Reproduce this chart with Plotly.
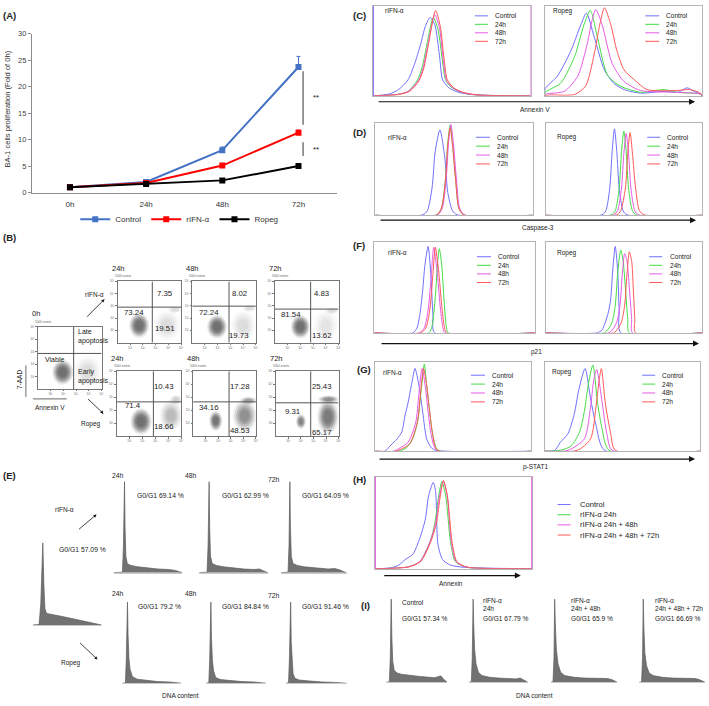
import plotly.graph_objects as go

W, H = 709, 706
FONT = "Arial, Liberation Sans, sans-serif"

# ---------------- data ----------------
# (A) proliferation, fold of 0h
a_times = ["0h", "24h", "48h", "72h"]
a_control = [1.0, 2.0, 8.0, 23.7]
a_control_err = [0.1, 0.2, 0.6, 2.0]
a_rifn = [1.0, 1.8, 5.1, 11.3]
a_rifn_err = [0.1, 0.1, 0.3, 0.5]
a_ropeg = [1.0, 1.6, 2.3, 5.0]
a_ropeg_err = [0.1, 0.1, 0.2, 0.3]

# (B) annexin V / 7-AAD quadrants: upper right, lower left, lower right
b_titles = ["0h", "24h", "48h", "72h", "24h", "48h", "72h"]
b_ur = [None, 7.35, 8.02, 4.83, 10.43, 17.28, 25.43]
b_ll = [None, 73.24, 72.24, 81.54, 71.4, 34.16, 9.31]
b_lr = [None, 19.51, 19.73, 13.62, 18.66, 48.53, 65.17]
b_gate_x = [2.81, 2.73, 2.89, 2.81, 2.85, 2.86, 2.78]
b_gate_y = [2.86, 2.90, 2.98, 2.74, 2.65, 2.65, 2.58]
# event clouds (centre x, centre y, radius x, radius y, density), log decades
b_clouds = [
    [(3.9, 1.4, 1.1, 1.3, 0.12), (1.95, 1.35, 0.82, 1.0, 1.0)],
    [(3.9, 1.4, 1.1, 1.3, 0.12), (4.5, 2.7, 0.6, 0.3, 0.12), (1.7, 1.4, 0.78, 1.0, 1.0)],
    [(4.0, 1.4, 1.0, 1.3, 0.12), (4.5, 2.8, 0.6, 0.3, 0.12), (1.95, 1.3, 0.78, 0.95, 1.0)],
    [(4.0, 1.4, 1.0, 1.3, 0.1), (4.5, 2.6, 0.6, 0.3, 0.12), (2.0, 1.3, 0.75, 0.95, 1.0)],
    [(4.2, 1.6, 0.9, 1.2, 0.3), (4.6, 2.8, 0.5, 0.4, 0.2), (1.9, 1.15, 0.82, 1.0, 1.0)],
    [(4.1, 1.6, 0.95, 1.2, 0.6), (4.4, 2.75, 0.7, 0.3, 0.45), (1.8, 1.2, 0.52, 0.78, 0.9)],
    [(4.15, 1.5, 0.85, 1.3, 0.8), (4.2, 2.85, 0.85, 0.3, 0.6), (2.0, 1.15, 0.4, 0.58, 0.7)],
]

# flow histograms, x and y in % of each box
series = ["Control", "24h", "48h", "72h"]
c_rifn = {
    "Control": ([0, 10, 16, 22, 26, 30, 33, 36, 39, 42, 44, 48, 54, 62, 75, 100],
                [0, 2, 7, 18, 35, 58, 78, 88, 80, 45, 18, 9, 4, 1.5, 0.5, 0]),
    "24h": ([0, 15, 22, 28, 31, 34, 38, 41, 44, 46, 50, 56, 65, 100],
            [0, 1.5, 5, 18, 32, 58, 88, 75, 38, 17, 9, 4, 1, 0]),
    "48h": ([0, 15, 22, 28.5, 31.5, 34.5, 39, 42, 44.5, 46.5, 50.5, 56, 65, 100],
            [0, 1.5, 5, 17, 31, 57, 91, 76, 38, 17, 9, 4, 1, 0]),
    "72h": ([0, 16, 23, 29, 32, 35, 39.5, 42.5, 45, 47, 51, 57, 66, 100],
            [0, 1.5, 5, 17, 31, 58, 96, 78, 40, 18, 9, 4, 1, 0]),
}
c_ropeg = {
    "Control": ([0, 0.3, 8, 16.5, 23, 26.5, 31.5, 38, 44, 50.5, 61, 76, 85, 90.5, 95, 99, 100],
                [0, 8, 22, 50, 80, 93, 66, 29, 14, 7, 3, 5, 4, 9, 5, 2, 0]),
    "24h": ([0, 0.3, 10, 19, 25, 29, 33.5, 40, 48, 61, 76, 84, 99, 100],
            [0, 4, 14, 44, 80, 96, 66, 23, 11, 4, 7, 4, 2, 0]),
    "48h": ([0, 1, 12.5, 21, 27, 30, 32.5, 36.5, 43, 50.5, 61, 82, 99, 100],
            [0, 2, 5, 22, 58, 84, 97, 80, 36, 16, 6, 4, 2, 0]),
    "72h": ([0, 3, 19, 26, 31.5, 35, 38, 42, 46, 50.5, 57, 65, 84, 92, 99, 100],
            [0, 1, 1.5, 11, 47, 80, 99, 80, 50, 29, 18, 7, 6, 7, 3, 0]),
}
d_rifn = {
    "Control": ([0, 30, 33, 36, 38, 41, 44, 46, 49, 52, 100], [0, 0.5, 5, 30, 70, 94, 65, 25, 5, 0.5, 0]),
    "24h": ([0, 39, 42, 44.5, 46, 47.5, 49, 51, 53, 56, 100], [0, 0.5, 8, 40, 80, 99, 80, 40, 8, 0.5, 0]),
    "48h": ([0, 39.5, 42.5, 45, 46.5, 48, 49.5, 51.5, 53.5, 56.5, 100], [0, 0.5, 8, 40, 80, 100, 80, 40, 8, 0.5, 0]),
    "72h": ([0, 39, 42, 44.5, 46, 47.5, 49, 51, 53, 56, 100], [0, 0.5, 8, 38, 77, 96, 77, 38, 8, 0.5, 0]),
}
d_ropeg = {
    "Control": ([0, 36, 38.5, 41, 42.5, 44, 45.5, 47, 49.5, 52, 100], [0, 0.5, 5, 30, 70, 95, 70, 30, 5, 0.5, 0]),
    "24h": ([0, 42, 44.5, 47, 48.5, 50, 51.5, 53, 55.5, 58, 100], [0, 0.5, 5, 30, 70, 92.5, 70, 30, 5, 0.5, 0]),
    "48h": ([0, 43.5, 46, 48.5, 50, 51.5, 53, 54.5, 57, 59.5, 100], [0, 0.5, 5, 30, 68, 90, 68, 30, 5, 0.5, 0]),
    "72h": ([0, 45.5, 48, 51, 52.5, 54, 55.5, 57.5, 60, 63, 100], [0, 0.5, 5, 30, 68, 91, 68, 30, 5, 0.5, 0]),
}
f_rifn = {
    "Control": ([0, 24, 26.5, 28.5, 30, 31.5, 33.5, 35, 36.5, 37.5, 100], [0, 0, 5, 22, 45, 75, 96, 70, 20, 0, 0]),
    "24h": ([0, 34, 36, 38, 39.5, 40.5, 42, 43.5, 45, 46, 100], [0, 0, 8, 40, 80, 93.5, 75, 35, 5, 0, 0]),
    "48h": ([0, 28, 31, 33.5, 35.5, 37, 39, 41, 42.5, 44, 100], [0, 0, 5, 25, 65, 95, 70, 30, 8, 0, 0]),
    "72h": ([0, 29, 32, 34.5, 36.5, 38, 40, 42, 43.5, 45, 100], [0, 0, 5, 25, 65, 95, 70, 30, 8, 0, 0]),
}
f_ropeg = {
    "Control": ([0, 33, 36, 38, 40, 41.5, 43, 44.5, 46, 47, 48, 100], [0, 0, 3, 11, 22, 36, 72, 96, 70, 25, 0, 0]),
    "24h": ([0, 37.5, 40, 42.5, 44.5, 46, 48, 49.5, 51, 52.5, 53.5, 100], [0, 0, 4, 12, 30, 65, 92, 80, 50, 15, 0, 0]),
    "48h": ([0, 40.5, 43, 45.5, 47.5, 49, 50.5, 52, 53.5, 55, 55.5, 100], [0, 0, 4, 12, 30, 65, 88, 80, 50, 15, 0, 0]),
    "72h": ([0, 43.5, 46, 48.5, 50.5, 52, 53.5, 55, 56, 57, 57.5, 100], [0, 0, 4, 12, 30, 65, 90, 80, 50, 15, 0, 0]),
}
g_rifn = {
    "Control": ([0, 6, 10, 14, 17, 19, 21, 23.5, 25.5, 28, 30.5, 33, 36, 39, 100],
                [0, 0, 7, 14, 22, 40, 55, 78, 94, 75, 44, 14, 4, 1, 0]),
    "24h": ([0, 15, 20, 24, 26, 27.5, 29.5, 31.5, 33, 35, 37, 40.5, 100],
            [0, 0, 4, 14, 25, 37, 70, 99, 75, 44, 18, 1, 0]),
    "48h": ([0, 12, 15, 21, 26, 28, 30, 32, 34, 36, 39.5, 100], [0, 0, 3, 10, 33, 65, 94, 75, 44, 18, 1, 0]),
    "72h": ([0, 13, 16, 22, 27, 29, 31, 33, 35, 37, 40, 100], [0, 0, 2, 8, 33, 65, 94, 75, 44, 18, 1, 0]),
}
g_ropeg = {
    "Control": ([0, 6.5, 10, 15, 19, 22, 26, 29.5, 33, 38.5, 100], [0, 1, 10, 20, 42, 70, 94, 60, 30, 1, 0]),
    "24h": ([0, 10, 17, 22.5, 25.5, 28, 31, 34, 37, 41.5, 100], [0, 1, 6, 22, 45, 75, 98, 55, 25, 1, 0]),
    "48h": ([0, 15, 25.5, 29.5, 31.5, 33.5, 37, 40, 43.5, 100], [0, 1, 14, 50, 80, 93, 55, 20, 1, 0]),
    "72h": ([0, 21, 29.5, 33, 35, 36.5, 39, 42.5, 45.5, 100], [0, 1, 14, 50, 80, 94, 55, 20, 1, 0]),
}
h_names = ["Control", "rIFN-α 24h", "rIFN-α 24h + 48h", "rIFN-α 24h + 48h + 72h"]
h_curves = {
    "Control": ([0, 10, 15, 19, 24, 28.5, 32, 34, 37, 38.5, 40, 43, 48, 57, 100],
                [0, 1, 4, 10, 16, 34, 55, 80, 95, 85, 27, 10, 4, 1.5, 0]),
    "rIFN-α 24h": ([0, 21, 28.5, 35, 38, 40.5, 42.5, 45, 48, 51, 56, 61, 100],
                   [0, 2, 8, 30, 50, 80, 96, 80, 30, 8, 3, 1, 0]),
    "rIFN-α 24h + 48h": ([0, 21, 28.5, 35, 38.5, 41, 43.5, 46, 48.5, 51.5, 56, 61, 100],
                         [0, 2, 8, 30, 50, 80, 96, 80, 30, 8, 3, 1, 0]),
    "rIFN-α 24h + 48h + 72h": ([0, 21.5, 29, 35.5, 39, 41.5, 43.5, 46, 49, 52, 56.5, 61.5, 100],
                               [0, 2, 8, 30, 50, 80, 97, 80, 30, 8, 3, 1, 0]),
}

# DNA content histograms, % of box
e_0h = ([0, 9, 11.5, 13, 14.5, 16, 17.5, 20, 28, 39, 50, 64, 75, 83, 90, 96, 100],
        [0, 0.5, 25, 75, 100, 50, 20, 14, 13, 11, 9, 6.5, 5, 3, 2.5, 0.5, 0])
e_rifn = [
    ([0, 13, 14.5, 15.3, 16, 16.8, 18, 20, 25, 35, 50, 65, 80, 90, 100],
     [0, 0.5, 30, 80, 100, 50, 18, 10, 8, 6.5, 5, 4, 3.5, 2.5, 0]),
    ([0, 11.5, 13, 13.8, 14.5, 15.3, 16.5, 19, 25, 35, 50, 65, 80, 88, 93, 100],
     [0, 0.5, 30, 80, 100, 50, 18, 10, 8, 6.5, 5, 4, 3.5, 4, 2, 0]),
    ([0, 11, 12.5, 13.2, 13.8, 14.6, 16, 18.5, 25, 35, 50, 62, 72, 82, 90, 96, 100],
     [0, 0.5, 30, 80, 100, 50, 18, 10, 8, 6.5, 5.5, 5, 4, 4.5, 3, 1, 0]),
]
e_ropeg = [
    ([0, 5, 6.5, 7.5, 8.5, 9.5, 11, 13, 17, 25, 35, 46, 60, 80, 100],
     [0, 0.5, 30, 80, 100, 60, 30, 17, 8, 5, 4, 3, 2, 1.5, 0]),
    ([0, 4.5, 6, 7, 8, 9, 10.5, 12.5, 16, 24, 35, 46, 60, 80, 100],
     [0, 0.5, 30, 80, 100, 55, 28, 15, 7, 4.5, 3.5, 2.5, 2, 1.5, 0]),
    ([0, 4.5, 6, 7, 8, 9, 10.5, 12, 15, 22, 35, 46, 60, 80, 100],
     [0, 0.5, 30, 80, 100, 50, 22, 12, 6, 4, 3, 2, 1.5, 1, 0]),
]
e_rifn_g0 = ["G0/G1 69.14 %", "G0/G1 62.99 %", "G0/G1 64.09 %"]
e_ropeg_g0 = ["G0/G1 79.2 %", "G0/G1 84.84 %", "G0/G1 91.46 %"]
i_hists = [
    ([0, 5, 6.5, 7.3, 8, 9, 10.5, 13, 18, 25, 40, 55, 70, 80, 86, 90, 95, 100],
     [0, 0.5, 30, 80, 100, 55, 25, 14, 11, 9.5, 8, 7, 6, 5.5, 7, 7.5, 3, 0]),
    ([0, 4, 5.5, 6.5, 7, 8, 9.5, 12, 16, 22, 35, 50, 65, 80, 87, 92, 100],
     [0, 0.5, 30, 80, 100, 70, 40, 22, 12, 8, 6, 5, 4.5, 4, 5, 3, 0]),
    ([0, 3.5, 5, 5.5, 6, 7, 8.5, 11, 15, 21, 35, 50, 65, 78, 85, 92, 100],
     [0, 0.5, 30, 80, 100, 70, 40, 22, 12, 8, 6, 5, 4.5, 4, 4.5, 3, 0]),
    ([0, 3.5, 5, 5.5, 6, 7, 8.5, 11, 15, 21, 35, 50, 65, 78, 85, 92, 100],
     [0, 0.5, 30, 80, 100, 65, 35, 20, 11, 8, 6, 5, 4.5, 4, 4.5, 3, 0]),
]
i_labels = [["Control", "", "G0/G1 57.34 %"],
            ["rIFN-α", "24h", "G0/G1 67.79 %"],
            ["rIFN-α", "24h + 48h", "G0/G1 65.9 %"],
            ["rIFN-α", "24h + 48h + 72h", "G0/G1 66.69 %"]]

# ---------------- helpers ----------------
fig = go.Figure()
shapes = []
annots = []
n_ax = 0
hist_colors = ["#6f6fff", "#45dc45", "#e45ce4", "#ff5858"]


def px(x):
    return x / W


def py(y):
    return 1 - y / H


def add_axes(x0, y0, x1, y1, xr, yr, xa=None, ya=None):
    global n_ax
    n_ax += 1
    s = "" if n_ax == 1 else str(n_ax)
    base = dict(showgrid=False, zeroline=False, showticklabels=False, ticks="", showline=False, fixedrange=True)
    xd = dict(base, domain=[px(x0), px(x1)], range=xr, anchor="y" + s)
    yd = dict(base, domain=[py(y1), py(y0)], range=yr, anchor="x" + s)
    xd.update(xa or {})
    yd.update(ya or {})
    fig.update_layout(**{"xaxis" + s: xd, "yaxis" + s: yd})
    return "x" + s, "y" + s


def text(x, y, s, size=7, xanchor="center", bold=False, color="#222", angle=0):
    annots.append(dict(x=px(x), y=py(y), xref="paper", yref="paper",
                       text=("<b>%s</b>" % s if bold else s), showarrow=False,
                       xanchor=xanchor, yanchor="middle", textangle=angle,
                       font=dict(size=size, color=color, family=FONT)))


def arrow(x0, y0, x1, y1, width=1, size=1):
    annots.append(dict(x=px(x1), y=py(y1), xref="paper", yref="paper", ax=x0 - x1, ay=y0 - y1,
                       showarrow=True, arrowhead=2, arrowsize=size, arrowwidth=width,
                       arrowcolor="#111", text=""))


def line(x0, y0, x1, y1, color="#444", width=1):
    shapes.append(dict(type="line", xref="paper", yref="paper", x0=px(x0), y0=py(y0),
                       x1=px(x1), y1=py(y1), line=dict(color=color, width=width)))


# ---------------- (A) ----------------
tick_font = dict(size=7.5, color="#444", family=FONT)
xa, ya = add_axes(32, 30, 338, 191, [-0.5, 3.5], [0, 30],
                  xa=dict(showline=True, linecolor="#8c8c8c", tickvals=[0, 1, 2, 3], ticktext=a_times,
                          showticklabels=True, tickfont=dict(size=8, color="#333", family=FONT),
                          ticklabelstandoff=4),
                  ya=dict(showline=True, linecolor="#8c8c8c", ticks="outside", ticklen=3,
                          tickcolor="#8c8c8c", dtick=5, showticklabels=True, tickfont=tick_font))
for name, vals, err, col in [("Control", a_control, a_control_err, "#4472c4"),
                             ("rIFN-α", a_rifn, a_rifn_err, "#ff0000"),
                             ("Ropeg", a_ropeg, a_ropeg_err, "#000000")]:
    fig.add_trace(go.Scatter(x=list(range(len(a_times))), y=vals, name=name, mode="lines+markers",
                             line=dict(color=col, width=2), marker=dict(symbol="square", size=6, color=col),
                             error_y=dict(type="data", array=err, arrayminus=[0] * len(err), symmetric=False,
                                          color=col, thickness=1, width=2),
                             xaxis=xa, yaxis=ya))
# significance bars at 72h
for lo, hi in [(a_rifn[3] + 1.5, a_control[3] - 0.8), (a_ropeg[3] + 1.9, a_rifn[3] - 1.8)]:
    fig.add_trace(go.Scatter(x=[3.06, 3.06], y=[lo, hi], mode="lines", line=dict(color="#333", width=1),
                             showlegend=False, hoverinfo="skip", xaxis=xa, yaxis=ya))
    annots.append(dict(x=3.16, y=(lo + hi) / 2, xref=xa, yref=ya, text="**", showarrow=False,
                       xanchor="left", font=dict(size=8, color="#222", family=FONT)))
text(10, 12, "(A)", size=9.5, bold=True)
text(8, 106, "BA-1 cells proliferation (Fold of 0h)", size=7.6, angle=-90, color="#333")

# ---------------- (B) ----------------
b_boxes = [(38, 327, 102, 390), (118, 281, 182, 343), (193, 281, 257, 343), (276, 281, 340, 343),
           (117, 372, 182, 438), (194, 372, 257, 438), (277, 372, 340, 438)]
b_label_y = [None, (4.0, 2.42, 1.13), (4.0, 2.42, 0.56), (4.0, 2.26, 0.56),
             (3.86, 2.35, 0.76), (3.86, 2.2, 0.45), (3.86, 1.9, 0.3)]
tiny = dict(size=3, color="#666", family=FONT)
cloud_layers = [(1.0, 0.15), (0.85, 0.28), (0.7, 0.38), (0.55, 0.45), (0.4, 0.45)]
for k, (x0, y0, x1, y1) in enumerate(b_boxes):
    ax_style = dict(showline=True, mirror=True, linecolor="#777", linewidth=0.8, ticks="outside",
                    ticklen=1.5, tickcolor="#777", tickvals=[1, 2, 3, 4, 5],
                    ticktext=["10¹", "10²", "10³", "10⁴", "10⁵"], showticklabels=True, tickfont=tiny)
    bx, by = add_axes(x0, y0, x1, y1, [0, 5], [0, 5], xa=ax_style, ya=ax_style)
    for cx, cy, rx, ry, d in b_clouds[k]:
        for scale, frac in cloud_layers:
            shapes.append(dict(type="circle", xref=bx, yref=by, x0=cx - rx * scale, x1=cx + rx * scale,
                               y0=cy - ry * scale, y1=cy + ry * scale, line=dict(width=0),
                               fillcolor="rgba(95,95,95,%.3f)" % min(d * frac, 1)))
    shapes.append(dict(type="line", xref=bx, yref=by, x0=b_gate_x[k], x1=b_gate_x[k], y0=0, y1=5,
                       line=dict(color="#555", width=1)))
    shapes.append(dict(type="line", xref=bx, yref=by, x0=0, x1=5, y0=b_gate_y[k], y1=b_gate_y[k],
                       line=dict(color="#555", width=1)))
    text(x0 - 8, y0 - 13, b_titles[k], size=7.5, xanchor="left")
    text(x0 - 5, y0 - 5, "5000 events", size=3, xanchor="left", color="#666")
    if b_ur[k] is not None:
        ury, lly, lry = b_label_y[k]
        for val, xx, yy in [(b_ur[k], 3.7, ury), (b_ll[k], 1.3, lly), (b_lr[k], 3.7, lry)]:
            annots.append(dict(x=xx, y=yy, xref=bx, yref=by, text=str(val), showarrow=False,
                               font=dict(size=7.8, color="#222", family=FONT)))
text(10, 237, "(B)", size=9.5, bold=True)
text(76, 332, "Late", size=7, xanchor="left")
text(76, 341, "apoptosis", size=7, xanchor="left")
text(43, 360, "Viable", size=7, xanchor="left")
text(76, 373, "Early", size=7, xanchor="left")
text(76, 382, "apoptosis", size=7, xanchor="left")
text(19, 380, "7-AAD", size=6.5, angle=-90)
line(26, 366, 26, 398, color="#444", width=0.8)
line(33, 400, 67, 400, color="#444", width=0.8)
text(50, 409, "Annexin V", size=6.5)
arrow(86, 318, 105, 299, width=0.8, size=0.8)
text(95, 294, "rIFN-α", size=6.5)
arrow(87, 399, 104, 415, width=0.8, size=0.8)
text(91, 425, "Ropeg", size=6.5)

# ---------------- DNA content histograms ----------------
def dna_hist(box, knots):
    x0, y0, x1, y1 = box
    hx, hy = add_axes(x0, y0, x1, y1, [0, 100], [0, 101],
                      xa=dict(showline=True, linecolor="#c8c8c8", linewidth=1))
    fig.add_trace(go.Scatter(x=knots[0], y=knots[1], mode="lines", fill="tozeroy",
                             fillcolor="#727272", line=dict(color="#5c5c5c", width=0.7),
                             showlegend=False, hoverinfo="skip", xaxis=hx, yaxis=hy))


dna_hist((33, 545, 102, 629), e_0h)
for box, kn in zip([(114, 483, 183, 576), (200, 483, 269, 576), (282, 483, 348, 576)], e_rifn):
    dna_hist(box, kn)
for box, kn in zip([(123, 605, 182, 688), (207, 605, 267, 688), (287, 605, 348, 688)], e_ropeg):
    dna_hist(box, kn)
text(10, 478, "(E)", size=9.5, bold=True)
text(83, 553, "G0/G1 57.09 %", size=6.8)
for xl, lab in zip([110, 184, 267], ["24h", "48h", "72h"]):
    text(xl, 478 if lab != "72h" else 482, lab, size=6.8, xanchor="left")
    text(xl, 597 if lab != "72h" else 599, lab, size=6.8, xanchor="left")
for xc, lab in zip([161, 247, 327], e_rifn_g0):
    text(xc, 498, lab, size=6.8)
for xc, lab in zip([160, 247, 327], e_ropeg_g0):
    text(xc, 610, lab, size=6.8)
text(65, 512, "rIFN-α", size=6.5)
arrow(78, 533, 97, 517, width=0.8, size=0.8)
text(71, 668, "Ropeg", size=6.5)
arrow(79, 646, 98, 664, width=0.8, size=0.8)
text(181, 700, "DNA content", size=6.5)

for box, kn in zip([(388, 602, 449, 687), (471, 602, 530, 687), (553, 602, 620, 687), (642, 602, 708, 687)],
                   i_hists):
    dna_hist(box, kn)
for xl, labs in zip([402, 483, 571, 656], i_labels):
    if labs[1]:
        text(xl, 604, labs[0], size=6.6, xanchor="left")
        text(xl, 612.5, labs[1], size=6.6, xanchor="left")
    else:
        text(xl, 606, labs[0], size=6.6, xanchor="left")
    text(xl, 622, labs[2], size=6.6, xanchor="left")
text(367, 609, "(I)", size=9.5, bold=True)
text(537, 700, "DNA content", size=6.5)

# ---------------- (C) (D) (F) (G) (H) flow histograms ----------------
def flow_hist(box, curves, names, legend_x, legend_y0, step, label=None, label_pos=None, lsize=6.6):
    x0, y0, x1, y1 = box
    fr = dict(showline=True, mirror=True, linecolor="#b4b4b4", linewidth=1)
    hx, hy = add_axes(x0, y0, x1, y1, [0, 100], [0, 101], xa=fr, ya=fr)
    for name, col in zip(names, hist_colors):
        kx, ky = curves[name]
        fig.add_trace(go.Scatter(x=kx, y=ky, mode="lines", line=dict(color=col, width=1, shape="spline",
                                                                    smoothing=0.7),
                                 showlegend=False, hoverinfo="skip", xaxis=hx, yaxis=hy))
    lx0, lx1, tx = legend_x
    for j, (name, col) in enumerate(zip(names, hist_colors)):
        yy = legend_y0 + j * step
        line(lx0, yy, lx1, yy, color=col, width=1)
        text(tx, yy, name, size=lsize, xanchor="left")
    if label:
        text(label_pos[0], label_pos[1], label, size=6.5, xanchor="left")


flow_hist((375, 2, 533, 93), c_rifn, series, (477, 490, 495), 12, 8.6, "rIFN-α", (385, 7))
flow_hist((547, 2, 705, 93), c_ropeg, series, (648, 662, 667), 12, 8.6, "Ropeg", (553, 7))
line(375, 2, 375, 93, color="#8a6cff", width=1)
line(533, 2, 533, 93, color="#f0a0f0", width=1)
text(361, 12, "(C)", size=9.5, bold=True)
arrow(380, 99, 698, 99, width=1.2)
text(537, 107, "Annexin V", size=6.5)

flow_hist((377, 121, 535, 214), d_rifn, series, (478, 492, 497), 135, 9, "rIFN-α", (388, 135))
flow_hist((548, 121, 705, 214), d_ropeg, series, (650, 663, 668), 135, 9, "Ropeg", (557, 135))
text(361, 130, "(D)", size=9.5, bold=True)
arrow(382, 219, 699, 219, width=1.2)
text(540, 227, "Caspase-3", size=6.5)

flow_hist((376, 241, 537, 333), f_rifn, series, (479, 493, 498), 256, 8.7, "rIFN-α", (388, 252))
flow_hist((548, 241, 705, 333), f_ropeg, series, (652, 665, 671), 256, 8.7, "Ropeg", (557, 252))
text(361, 245, "(F)", size=9.5, bold=True)
arrow(383, 344, 702, 344, width=1.2)
text(539, 352, "p21", size=6.5)

flow_hist((377, 363, 533, 453), g_rifn, series, (473, 487, 492), 376, 9, "rIFN-α", (383, 373))
flow_hist((547, 363, 703, 453), g_ropeg, series, (645, 658, 663), 376, 9, "Ropeg", (552, 373))
text(366, 370, "(G)", size=9.5, bold=True)
arrow(381, 461, 698, 461, width=1.2)
text(538, 469, "p-STAT1", size=6.5)

flow_hist((377, 479, 534, 572), h_curves, h_names, (560, 573, 580), 507, 10.3, lsize=7.6)
line(377, 479, 377, 572, color="#e45ce4", width=1)
line(534, 479, 534, 572, color="#e45ce4", width=1)
text(361, 482, "(H)", size=9.5, bold=True)
arrow(385, 579, 523, 579, width=1.2)
text(453, 587, "Annexin", size=6.5)

fig.update_layout(
    width=W, height=H, margin=dict(l=0, r=0, t=0, b=0),
    paper_bgcolor="white", plot_bgcolor="white",
    shapes=shapes, annotations=annots,
    legend=dict(orientation="h", x=px(180), y=py(218), xanchor="center", yanchor="middle",
                font=dict(size=8, color="#333", family=FONT), itemwidth=30, bgcolor="rgba(0,0,0,0)"),
    font=dict(family=FONT),
)
# page body has a default 8px margin, drop it so the figure fills the window
fig.write_html("out.html", config={"displayModeBar": False},
               post_script="document.body.style.margin='0px';")
